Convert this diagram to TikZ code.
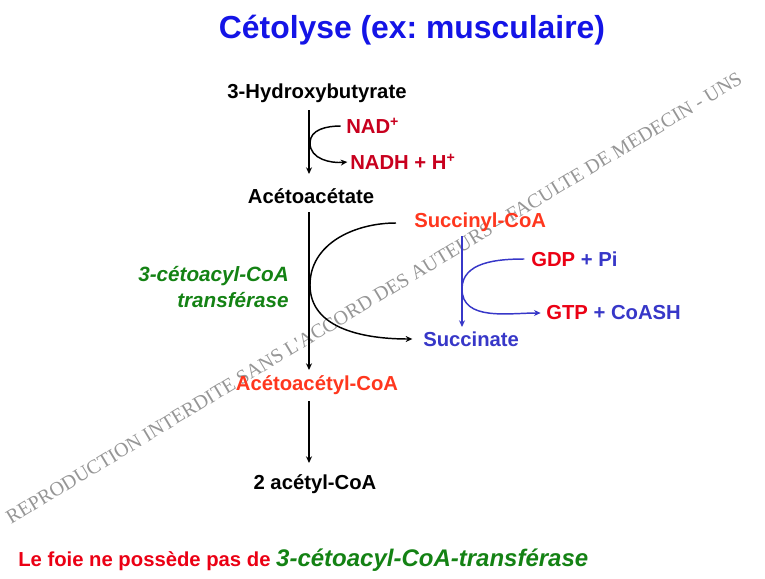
\documentclass[tikz,border=0pt]{standalone}
\usepackage{fontspec}
\setmainfont{Liberation Sans}
\newfontfamily\wmfont{Liberation Serif}
\usetikzlibrary{arrows.meta}
\frenchspacing
\definecolor{titleblue}{RGB}{20,20,230}
\definecolor{nadred}{RGB}{200,0,30}
\definecolor{orred}{RGB}{255,55,30}
\definecolor{gred}{RGB}{235,0,20}
\definecolor{pblue}{RGB}{55,55,200}
\definecolor{egreen}{RGB}{20,130,20}
\definecolor{wmgray}{RGB}{150,150,150}
\tikzset{
  lbl/.style={inner sep=0pt, font=\fontsize{15.2pt}{18pt}\selectfont\bfseries},
  arr/.style={line width=1.1pt, -{Stealth[length=5pt,width=4.5pt]}},
}
\begin{document}
\begin{tikzpicture}[x=0.75pt,y=-0.75pt]
\useasboundingbox (0,0) rectangle (765,579);
% watermark
\node[wmgray, rotate=31.1, inner sep=0pt, font=\wmfont\fontsize{15pt}{18pt}\selectfont] (wm) at (374,298)
  {REPRODUCTION INTERDITE SANS L'ACCORD DES AUTEURS – FACULTE DE MEDECIN - UNS};
% title
\node[inner sep=0pt, titleblue, font=\fontsize{23.9pt}{28pt}\selectfont\bfseries] (title) at (412,30) {Cétolyse (ex: musculaire)};
% main chain
\node[lbl] (hb) at (317,93) {3-Hydroxybutyrate};
\node[lbl] (aa) at (311,196) {Acétoacétate};
\node[lbl, orred] (aacoa) at (317,385) {Acétoacétyl-CoA};
\node[lbl] (acoa) at (315,484) {2 acétyl-CoA};
\coordinate (a1s) at (309,110); \coordinate (a1e) at (309,174);
\coordinate (a2s) at (309,212); \coordinate (a2e) at (309,370);
\coordinate (a3s) at (309,401); \coordinate (a3e) at (309,463);
\draw[arr] (a1s) -- (a1e);
\draw[arr] (a2s) -- (a2e);
\draw[arr] (a3s) -- (a3e);
% NAD
\node[lbl, nadred, anchor=west] (nad) at (346,126) {NAD\textsuperscript{+}};
\node[lbl, nadred, anchor=west] (nadh) at (350,162) {NADH + H\textsuperscript{+}};
\draw[arr] ([xshift=-4]nad.west) to[out=180,in=90] (310,143) to[out=-90,in=185] ([xshift=-2]nadh.west);
% enzyme
\node[lbl, egreen, font=\fontsize{15.5pt}{18pt}\selectfont\bfseries\itshape, anchor=east] (enz1) at (289,276) {3-cétoacyl-CoA};
\node[lbl, egreen, font=\fontsize{15.5pt}{18pt}\selectfont\bfseries\itshape, anchor=east] (enz2) at (289,300) {transférase};
% succinyl
\node[lbl, orred, anchor=west] (succoa) at (414,222) {Succinyl-CoA};
\node[lbl, pblue, anchor=west] (succ) at (423,339) {Succinate};
\draw[arr] (succoa.west) ++(-18,1) coordinate (bc) to[out=180,in=90] (310,285) to[out=-90,in=180] ([xshift=-8]succ.west);
% blue part
\coordinate (bs) at (462,236); \coordinate (be) at (462,327);
\draw[arr, pblue] (bs) -- (be);
\node[lbl, anchor=west] (gdp) at (531,259) {\textcolor{gred}{GDP} \textcolor{pblue}{+ Pi}};
\node[lbl, anchor=west] (gtp) at (546,313) {\textcolor{gred}{GTP} \textcolor{pblue}{+ CoASH}};
\draw[arr, pblue] ([xshift=-5]gdp.west) to[out=180,in=90] (462,289) to[out=-90,in=180] ([xshift=-4]gtp.west);
% bottom note
\node[inner sep=0pt, anchor=base west] (note) at (18,566)
  {\textcolor{gred}{\fontsize{15.2pt}{18pt}\selectfont\bfseries Le foie ne possède pas de }\textcolor{egreen}{\fontsize{18pt}{22pt}\selectfont\bfseries\itshape 3-cétoacyl-CoA-transférase}};
\end{tikzpicture}
\end{document}
